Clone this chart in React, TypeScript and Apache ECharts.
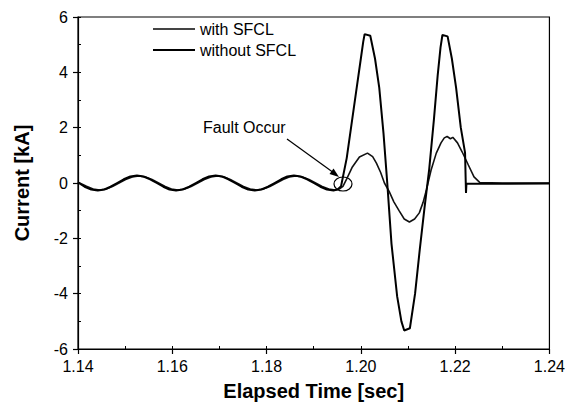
import React, { useEffect, useRef } from "react";
import * as echarts from "echarts";

const xTicks = [1.14, 1.16, 1.18, 1.2, 1.22, 1.24];
const yTicks = [-6, -4, -2, 0, 2, 4, 6];

// without SFCL
const tWithout = [
  1.14, 1.1414, 1.1428, 1.1442, 1.1456, 1.1469, 1.1483, 1.1497, 1.1511, 1.1525, 1.1539, 1.1553,
  1.1567, 1.1581, 1.1594, 1.1608, 1.1622, 1.1636, 1.165, 1.1664, 1.1678, 1.1692, 1.1706, 1.1719,
  1.1733, 1.1747, 1.1761, 1.1775, 1.1789, 1.1803, 1.1817, 1.1831, 1.1844, 1.1858, 1.1872, 1.1886,
  1.19, 1.1914, 1.1928, 1.1942, 1.195, 1.1958,
  1.197, 1.198, 1.199, 1.2, 1.2005, 1.2008, 1.202, 1.203, 1.2039, 1.2048, 1.2056, 1.2065, 1.2077,
  1.2086, 1.2092, 1.2104, 1.2115, 1.2125, 1.2135, 1.2145, 1.2155, 1.2163, 1.2169, 1.2173, 1.2184,
  1.2193, 1.2202, 1.2212, 1.2221, 1.2223, 1.2224, 1.23, 1.24,
];
const vWithout = [
  0.02, -0.135, -0.234, -0.27, -0.234, -0.135, 0, 0.135, 0.234, 0.27, 0.234, 0.135,
  0, -0.135, -0.234, -0.27, -0.234, -0.135, 0, 0.135, 0.234, 0.27, 0.234, 0.135,
  0, -0.135, -0.234, -0.27, -0.234, -0.135, 0, 0.135, 0.234, 0.27, 0.234, 0.135,
  0, -0.135, -0.234, -0.27, -0.24, -0.12,
  0.9, 2.1, 3.3, 4.5, 5.1, 5.38, 5.32, 4.5, 3.45, 1.8, 0.0, -2.2, -4.1,
  -5.0, -5.33, -5.25, -4.0, -2.4, -0.9, 0.5, 2.3, 3.9, 4.9, 5.35, 5.3,
  4.5, 3.45, 2.0, 1.1, -0.36, -0.02, -0.03, -0.02,
];

// with SFCL
const tWith = [
  1.14, 1.1418, 1.1432, 1.1446, 1.146, 1.1473, 1.1487, 1.1501, 1.1515, 1.1529, 1.1543, 1.1557,
  1.1571, 1.1585, 1.1598, 1.1612, 1.1626, 1.164, 1.1654, 1.1668, 1.1682, 1.1696, 1.171, 1.1723,
  1.1737, 1.1751, 1.1765, 1.1779, 1.1793, 1.1807, 1.1821, 1.1835, 1.1848, 1.1862, 1.1876, 1.189,
  1.1904, 1.1918, 1.1932, 1.1946, 1.1954, 1.1962,
  1.197, 1.1982, 1.1997, 1.2014, 1.2025, 1.2033, 1.2042, 1.205, 1.206, 1.207, 1.2081, 1.2092,
  1.2103, 1.2114, 1.2124, 1.2132, 1.2139, 1.2149, 1.216, 1.217, 1.2177, 1.2183, 1.219, 1.2195,
  1.2205, 1.2215, 1.2228, 1.224, 1.2252, 1.23, 1.24,
];
const vWith = [
  0.03, -0.12, -0.215, -0.25, -0.215, -0.125, 0, 0.125, 0.215, 0.25, 0.215, 0.125,
  0, -0.125, -0.215, -0.25, -0.215, -0.125, 0, 0.125, 0.215, 0.25, 0.215, 0.125,
  0, -0.125, -0.215, -0.25, -0.215, -0.125, 0, 0.125, 0.215, 0.25, 0.215, 0.125,
  0, -0.125, -0.215, -0.25, -0.22, -0.12,
  0.15, 0.58, 0.94, 1.08, 0.95, 0.72, 0.38, 0.0, -0.3, -0.68, -1.0, -1.3,
  -1.41, -1.3, -1.08, -0.7, -0.25, 0.47, 1.08, 1.45, 1.63, 1.68, 1.6, 1.65,
  1.45, 1.12, 0.65, 0.22, 0.02, 0.0, 0.0,
];

const seriesNames = ["with SFCL", "without SFCL"];
const xTitle = "Elapsed Time [sec]";
const yTitle = "Current [kA]";
const note = "Fault Occur";

const FONT = "'Liberation Sans', Arial, Helvetica, sans-serif";

export default function App() {
  const ref = useRef<HTMLDivElement>(null);
  useEffect(() => {
    if (!ref.current) return;
    const chart = echarts.init(ref.current, null, { renderer: "svg" });
    const zip = (t: number[], v: number[]) => t.map((x, i) => [x, v[i]]);
    chart.setOption({
      animation: false,
      backgroundColor: "#fff",
      textStyle: { fontFamily: FONT, color: "#000" },
      grid: {
        left: 78, right: 17, top: 17, bottom: 61,
        show: true, borderColor: "#000", borderWidth: 1.2, backgroundColor: "transparent",
      },
      legend: {
        data: seriesNames,
        orient: "vertical",
        left: 148,
        top: 16,
        itemGap: 5,
        itemWidth: 42,
        itemHeight: 2,
        icon: "rect",
        textStyle: { fontFamily: FONT, fontSize: 16, color: "#000" },
      },
      xAxis: [
        {
          type: "value",
          min: xTicks[0],
          max: xTicks[xTicks.length - 1],
          interval: 0.02,
          name: xTitle,
          nameLocation: "middle",
          nameGap: 32,
          nameTextStyle: { fontFamily: FONT, fontSize: 20, fontWeight: "bold", color: "#000" },
          axisLine: { onZero: false, lineStyle: { color: "#000", width: 1.2 } },
          axisTick: { inside: false, length: 5, lineStyle: { color: "#000", width: 1.2 } },
          axisLabel: {
            fontFamily: FONT, fontSize: 16, color: "#000", margin: 9,
            formatter: (v: number) => v.toFixed(2),
          },
          splitLine: { show: false },
        },
        {
          type: "value",
          position: "bottom",
          min: xTicks[0],
          max: xTicks[xTicks.length - 1],
          interval: 0.01,
          axisLine: { show: false, onZero: false },
          axisTick: { inside: true, length: 3, lineStyle: { color: "#000", width: 1 } },
          axisLabel: { show: false },
          splitLine: { show: false },
        },
      ],
      yAxis: [
        {
          type: "value",
          min: yTicks[0],
          max: yTicks[yTicks.length - 1],
          interval: 2,
          name: yTitle,
          nameLocation: "middle",
          nameGap: 46,
          nameTextStyle: { fontFamily: FONT, fontSize: 20, fontWeight: "bold", color: "#000" },
          axisLine: { onZero: false, lineStyle: { color: "#000", width: 1.2 } },
          axisTick: { inside: false, length: 5, lineStyle: { color: "#000", width: 1.2 } },
          axisLabel: { fontFamily: FONT, fontSize: 16, color: "#000", margin: 10 },
          splitLine: { show: false },
        },
        {
          type: "value",
          position: "left",
          min: yTicks[0],
          max: yTicks[yTicks.length - 1],
          interval: 1,
          axisLine: { show: false, onZero: false },
          axisTick: { inside: true, length: 3, lineStyle: { color: "#000", width: 1 } },
          axisLabel: { show: false },
          splitLine: { show: false },
        },
      ],
      series: [
        {
          name: seriesNames[0],
          type: "line",
          data: zip(tWith, vWith),
          showSymbol: false,
          symbol: "none",
          lineStyle: { color: "#111", width: 1.6 },
          itemStyle: { color: "#444" },
          z: 3,
        },
        {
          name: seriesNames[1],
          type: "line",
          data: zip(tWithout, vWithout),
          showSymbol: false,
          symbol: "none",
          lineStyle: { color: "#000", width: 2 },
          itemStyle: { color: "#000" },
          z: 4,
        },
      ],
      graphic: [
        {
          type: "text",
          left: 203,
          top: 119,
          style: { text: note, font: `16px ${FONT}`, fill: "#000" },
        },
        {
          type: "line",
          shape: { x1: 287, y1: 139, x2: 334, y2: 173 },
          style: { stroke: "#000", lineWidth: 1.2 },
        },
        {
          type: "polygon",
          shape: { points: [[339, 177], [329.5, 174], [333.5, 168.5]] },
          style: { fill: "#000" },
        },
        {
          type: "ellipse",
          shape: { cx: 343, cy: 184, rx: 9, ry: 7 },
          style: { stroke: "#000", lineWidth: 1.2, fill: "none" },
        },
      ],
    });
    return () => chart.dispose();
  }, []);
  return (
    <div
      ref={ref}
      style={{ position: "fixed", left: 0, top: 0, width: 568, height: 410, background: "#fff" }}
    />
  );
}
